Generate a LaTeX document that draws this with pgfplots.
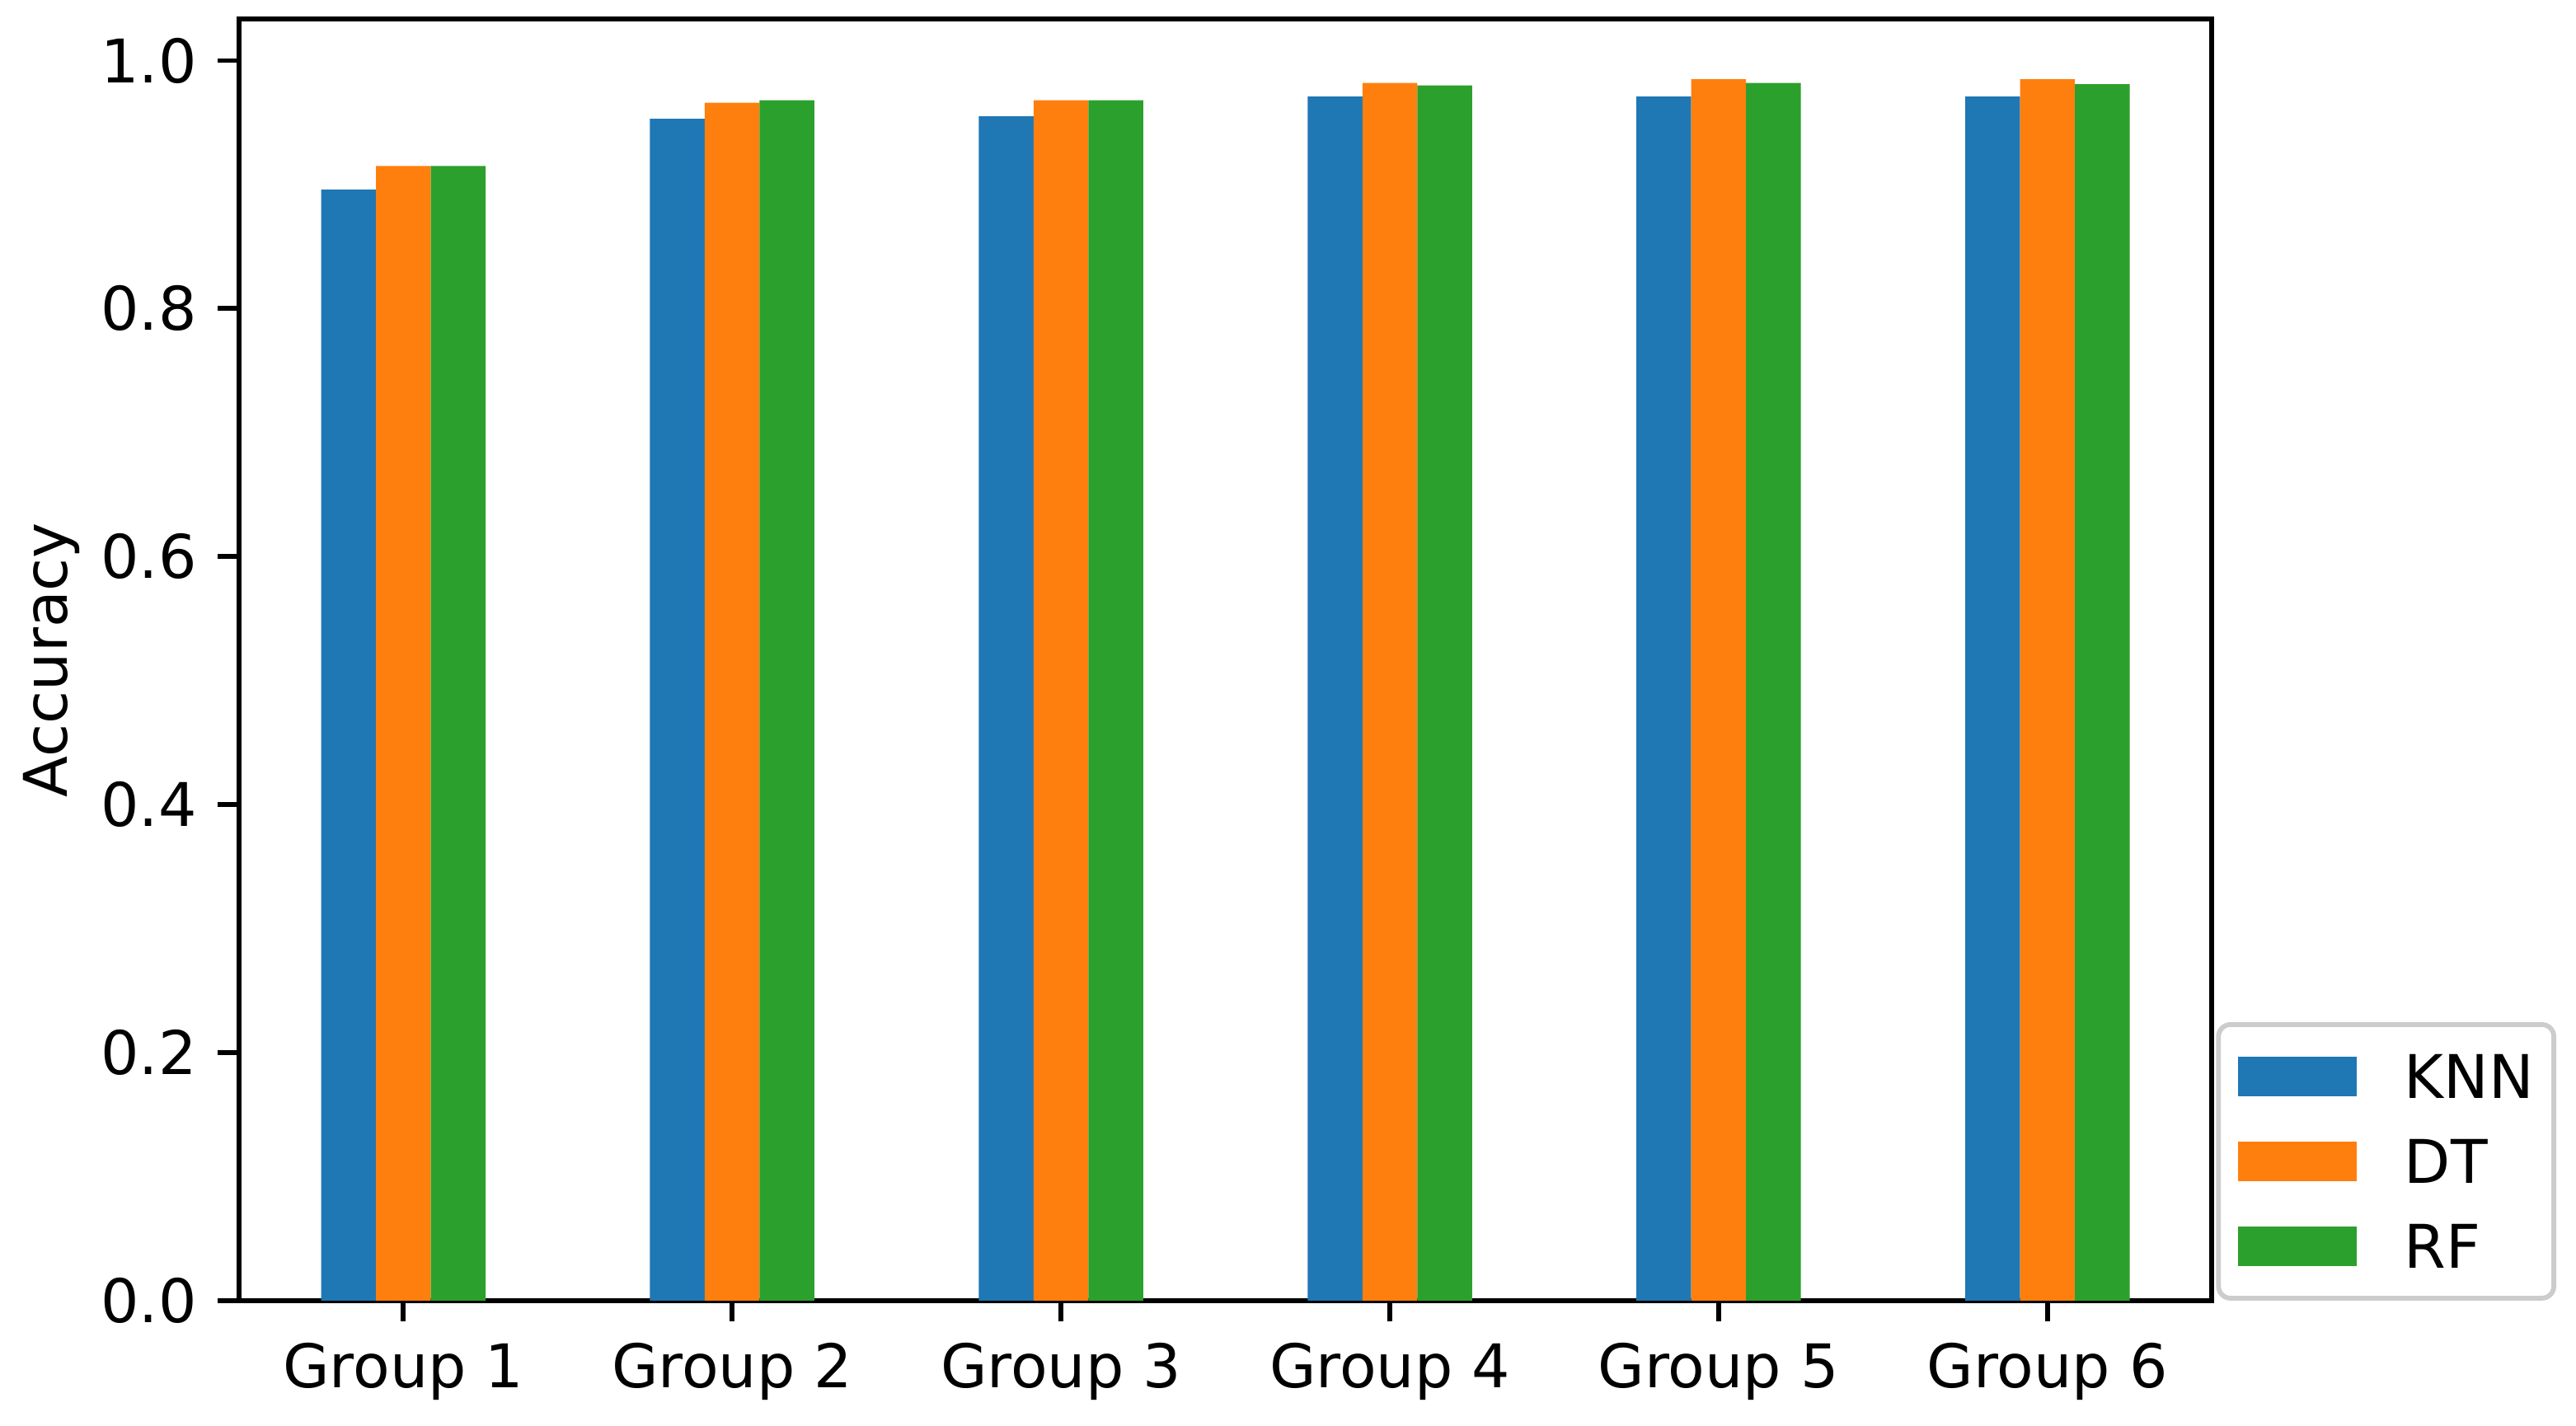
\documentclass[border=0pt]{standalone}
\usepackage{fontspec}
\setmainfont{DejaVu Sans}
\usepackage{pgfplots}
\pgfplotsset{compat=1.18}

\definecolor{cknn}{HTML}{1F77B4}
\definecolor{cdt}{HTML}{FF7F0E}
\definecolor{crf}{HTML}{2CA02C}

\pgfplotsset{
  barpatch/.style={legend image code/.code={
      \fill[##1, sharp corners] (0pt,-3.3pt) rectangle (19.6pt,3.3pt);}},
}

\begin{document}
\begin{tikzpicture}
\useasboundingbox (-39.7pt,-20.7pt) rectangle (388.3pt,216.1pt);
\begin{axis}[
    at={(0,0)}, anchor=south west,
    scale only axis,
    width=327.8pt, height=212.9pt,
    ybar=0pt, bar width=0.1667,
    xmin=-0.5, xmax=5.5,
    ymin=0, ymax=1.0333,
    xtick={0,1,2,3,4,5},
    xticklabels={Group 1,Group 2,Group 3,Group 4,Group 5,Group 6},
    ytick={0,0.2,0.4,0.6,0.8,1.0},
    yticklabel style={/pgf/number format/.cd,fixed,fixed zerofill,precision=1},
    /pgf/number format/assume math mode=true,
    xtick pos=bottom, ytick pos=left,
    tick align=outside,
    major tick length=3.5pt,
    tick style={black, line width=0.8pt},
    axis line style={line width=0.8pt},
    ylabel={Accuracy},
    ylabel shift=-3.3pt,
    legend cell align=left,
    legend style={at={(1,0)}, anchor=south west, xshift=0.7pt,
      draw=black!20, line width=0.8pt, rounded corners=2pt,
      inner xsep=3.3pt, inner ysep=5pt,
      row sep=6.8pt,
      nodes={inner sep=0pt, text depth=0pt},
      /tikz/every odd column/.append style={column sep=8pt}},
  ]
  \addplot[fill=cknn, draw=none, barpatch] coordinates {
    (0,0.896) (1,0.953) (2,0.955) (3,0.971) (4,0.971) (5,0.971)};
  \addlegendentry{KNN}
  \addplot[fill=cdt, draw=none, barpatch] coordinates {
    (0,0.915) (1,0.966) (2,0.968) (3,0.982) (4,0.985) (5,0.985)};
  \addlegendentry{DT}
  \addplot[fill=crf, draw=none, barpatch] coordinates {
    (0,0.915) (1,0.968) (2,0.968) (3,0.980) (4,0.982) (5,0.981)};
  \addlegendentry{RF}
\end{axis}
\end{tikzpicture}
\end{document}
